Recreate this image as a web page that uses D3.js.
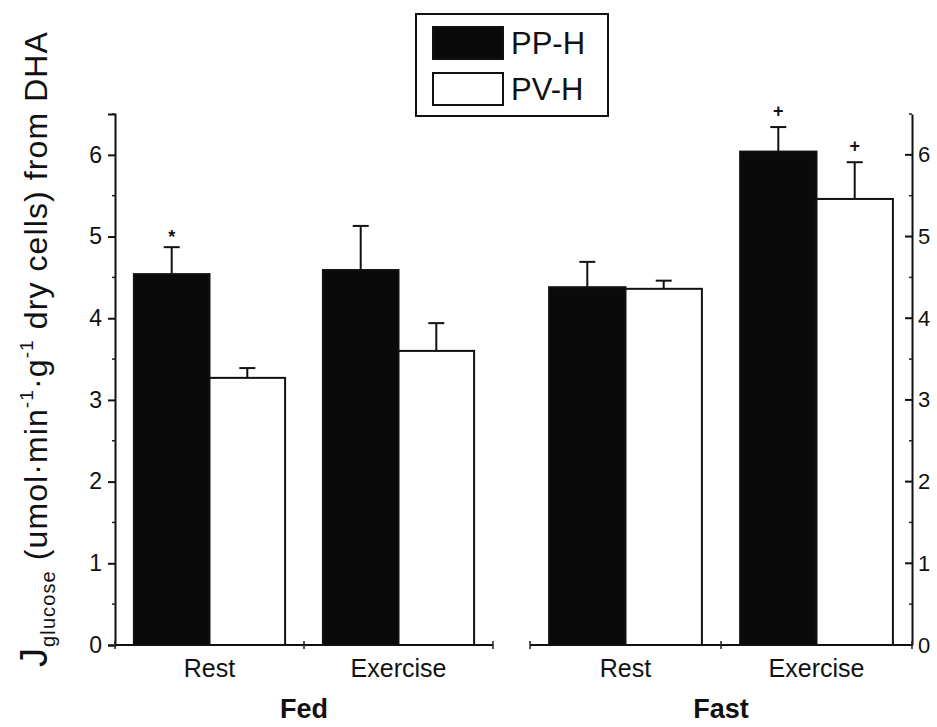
<!DOCTYPE html>
<html>
<head>
<meta charset="utf-8">
<script src="https://cdn.jsdelivr.net/npm/d3@7/dist/d3.min.js"></script>
<style>
  body { margin: 0; background: #fff; }
  svg { display: block; font-family: "Liberation Sans", Arial, sans-serif; }
</style>
</head>
<body>
<svg id="chart" width="937" height="727"></svg>
<script>
// ---- data ----
const groups = ["Fed", "Fast"];
const conditions = ["Rest", "Exercise"];
const seriesNames = ["PP-H", "PV-H"];
// order: Fed-Rest, Fed-Exercise, Fast-Rest, Fast-Exercise
const ppH = [4.54, 4.59, 4.38, 6.04];
const ppHErr = [0.33, 0.54, 0.31, 0.30];
const pvH = [3.27, 3.60, 4.36, 5.46];
const pvHErr = [0.12, 0.34, 0.10, 0.45];
const ppMarks = ["*", "", "", "+"];
const pvMarks = ["", "", "", "+"];
const yTicks = [0, 1, 2, 3, 4, 5, 6];
const yMinorTicks = [0.5, 1.5, 2.5, 3.5, 4.5, 5.5, 6.5];

const svg = d3.select("#chart");
const y = d3.scaleLinear().domain([0, 6.5]).range([645, 114]);
const panelRanges = [[115, 493], [530, 912]];
const fills = ["#0a0a0a", "#ffffff"];

// left axis
const gL = svg.append("g").attr("transform", "translate(115,0)");
gL.call(d3.axisLeft(y).tickValues(yTicks).tickSize(7).tickPadding(6).tickFormat(d3.format("d")));
gL.selectAll(".minor").data(yMinorTicks).enter().append("line")
  .attr("x1", -3).attr("x2", 0).attr("y1", d => y(d)).attr("y2", d => y(d))
  .attr("stroke", "#222").attr("stroke-width", 1.5);
// right axis (ticks inward, labels right)
const gR = svg.append("g").attr("transform", "translate(912,0)");
gR.call(d3.axisRight(y).tickValues(yTicks).tickSize(0).tickPadding(6).tickFormat(d3.format("d")));
gR.selectAll(".maj").data(yTicks).enter().append("line")
  .attr("x1", -7).attr("x2", 0).attr("y1", d => y(d)).attr("y2", d => y(d))
  .attr("stroke", "#111").attr("stroke-width", 2);
gR.selectAll(".minor").data(yMinorTicks).enter().append("line")
  .attr("x1", -3).attr("x2", 0).attr("y1", d => y(d)).attr("y2", d => y(d))
  .attr("stroke", "#222").attr("stroke-width", 1.5);

[gL, gR].forEach(g => {
  g.select(".domain").attr("stroke", "#111").attr("stroke-width", 2);
  g.selectAll(".tick line").attr("stroke", "#111").attr("stroke-width", 2);
  g.selectAll(".tick text").attr("font-size", 23).attr("fill", "#111");
});
gR.selectAll(".tick text").attr("font-size", 22);

// panels
groups.forEach((grp, gi) => {
  const [x0, x1] = panelRanges[gi];
  const xb = d3.scaleBand().domain(conditions).range([x0, x1]).paddingInner(0.2).paddingOuter(0.1);
  const xs = d3.scaleBand().domain(seriesNames).range([0, xb.bandwidth()]);
  const pg = svg.append("g");

  conditions.forEach((cond, ci) => {
    const idx = gi * 2 + ci;
    const vals = [ppH[idx], pvH[idx]];
    const errs = [ppHErr[idx], pvHErr[idx]];
    const marks = [ppMarks[idx], pvMarks[idx]];
    seriesNames.forEach((s, si) => {
      const bx = xb(cond) + xs(s);
      const cx = bx + xs.bandwidth() / 2;
      // error bar (upper only)
      pg.append("line").attr("x1", cx).attr("x2", cx)
        .attr("y1", y(vals[si])).attr("y2", y(vals[si] + errs[si]))
        .attr("stroke", "#111").attr("stroke-width", 2);
      pg.append("line").attr("x1", cx - 8).attr("x2", cx + 8)
        .attr("y1", y(vals[si] + errs[si])).attr("y2", y(vals[si] + errs[si]))
        .attr("stroke", "#111").attr("stroke-width", 2);
      pg.append("rect")
        .attr("x", bx).attr("width", xs.bandwidth())
        .attr("y", y(vals[si])).attr("height", y(0) - y(vals[si]))
        .attr("fill", fills[si]).attr("stroke", "#111").attr("stroke-width", 2);
      if (marks[si]) {
        pg.append("text").attr("x", cx).attr("y", y(vals[si] + errs[si]) - (marks[si] === "*" ? 4 : 10))
          .attr("text-anchor", "middle").attr("font-size", 18).attr("font-weight", "bold")
          .attr("fill", "#111").text(marks[si]);
      }
    });
    pg.append("text").attr("x", xb(cond) + xb.bandwidth() / 2).attr("y", 677)
      .attr("text-anchor", "middle").attr("font-size", 25).attr("fill", "#111").text(cond);
  });

  // x axis line with small ticks
  pg.append("line").attr("x1", x0).attr("x2", x1).attr("y1", y(0)).attr("y2", y(0))
    .attr("stroke", "#111").attr("stroke-width", 2);
  const tickXs = [x0, xb(conditions[1]) - xb.step() * xb.paddingInner() / 2, x1];
  pg.selectAll(".xt").data(tickXs).enter().append("line")
    .attr("x1", d => d).attr("x2", d => d).attr("y1", y(0) - 4).attr("y2", y(0) + 4)
    .attr("stroke", "#222").attr("stroke-width", 1.5);

  pg.append("text").attr("x", (x0 + x1) / 2).attr("y", 718)
    .attr("text-anchor", "middle").attr("font-size", 27).attr("font-weight", "bold")
    .attr("fill", "#111").text(grp);
});

// y-axis label
const yl = svg.append("text").attr("transform", "translate(47,667) rotate(-90)")
  .attr("font-size", 32).attr("letter-spacing", 1.1).attr("fill", "#111");
yl.append("tspan").attr("font-size", 38).text("J");
yl.append("tspan").attr("font-size", 20).attr("dy", 8).text("glucose");
yl.append("tspan").attr("dy", -8).text(" (umol·min");
yl.append("tspan").attr("font-size", 19).attr("dy", -14).text("-1");
yl.append("tspan").attr("dy", 14).text("·g");
yl.append("tspan").attr("font-size", 19).attr("dy", -14).text("-1");
yl.append("tspan").attr("dy", 14).text(" dry cells) from DHA");

// legend
const lg = svg.append("g");
lg.append("rect").attr("x", 416).attr("y", 14).attr("width", 192).attr("height", 102)
  .attr("fill", "#fff").attr("stroke", "#111").attr("stroke-width", 2);
seriesNames.forEach((s, i) => {
  lg.append("rect").attr("x", 433).attr("y", 27 + i * 46).attr("width", 70).attr("height", 32)
    .attr("fill", fills[i]).attr("stroke", "#111").attr("stroke-width", 2);
  lg.append("text").attr("x", 511).attr("y", 54 + i * 46).attr("font-size", 31)
    .attr("fill", "#111").text(s);
});
</script>
</body>
</html>
